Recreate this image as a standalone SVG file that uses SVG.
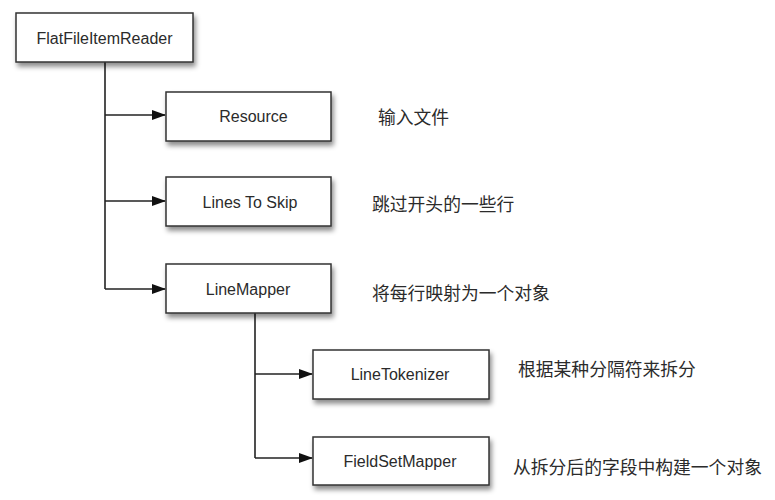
<svg xmlns="http://www.w3.org/2000/svg" width="775" height="500" viewBox="0 0 775 500">
<defs>
<filter id="sh" x="-10%" y="-20%" width="130%" height="160%">
<feDropShadow dx="2" dy="4" stdDeviation="2.5" flood-color="#000" flood-opacity="0.45"/>
</filter>
<marker id="ah" markerWidth="14" markerHeight="10" refX="13" refY="5" orient="auto" markerUnits="userSpaceOnUse">
<path d="M0,0 L14,5 L0,10 Z" fill="#111"/>
</marker>
<style>
.box{fill:#fff;stroke:#333;stroke-width:1.5;filter:url(#sh)}
.lbl{font-family:"Liberation Sans",Arial,sans-serif;font-size:16px;fill:#2b2b2b;text-anchor:middle;dominant-baseline:central}
.cn{font-family:"Noto Sans CJK SC","Liberation Sans",sans-serif;font-size:17.8px;fill:#2b2b2b;dominant-baseline:central}
.ln{fill:none;stroke:#222;stroke-width:1.6}
</style>
</defs>
<rect width="775" height="500" fill="#fff"/>
<g id="connectors">
<path class="ln" d="M105,62 V289"/>
<path class="ln" d="M105,115 H165" marker-end="url(#ah)"/>
<path class="ln" d="M105,201 H165" marker-end="url(#ah)"/>
<path class="ln" d="M105,289 H165" marker-end="url(#ah)"/>
<path class="ln" d="M255,313 V458"/>
<path class="ln" d="M255,374 H312" marker-end="url(#ah)"/>
<path class="ln" d="M255,458 H312" marker-end="url(#ah)"/>
</g>
<g id="FlatFileItemReader"><rect class="box" x="16" y="13" width="177" height="49"/><text class="lbl" x="104.5" y="38">FlatFileItemReader</text></g>
<g id="Resource"><rect class="box" x="166" y="92" width="165" height="49"/><text class="lbl" x="253.5" y="116">Resource</text></g>
<g id="LinesToSkip"><rect class="box" x="166" y="177" width="165" height="49"/><text class="lbl" x="250" y="202">Lines To Skip</text></g>
<g id="LineMapper"><rect class="box" x="166" y="264" width="165" height="49"/><text class="lbl" x="248" y="289">LineMapper</text></g>
<g id="LineTokenizer"><rect class="box" x="313" y="350" width="176" height="49"/><text class="lbl" x="400" y="374">LineTokenizer</text></g>
<g id="FieldSetMapper"><rect class="box" x="313" y="437" width="176" height="48"/><text class="lbl" x="400" y="461">FieldSetMapper</text></g>
<g id="notes">
<text class="cn" x="378" y="116">输入文件</text>
<text class="cn" x="372" y="203">跳过开头的一些行</text>
<text class="cn" x="372" y="292">将每行映射为一个对象</text>
<text class="cn" x="518" y="368">根据某种分隔符来拆分</text>
<text class="cn" x="513" y="466">从拆分后的字段中构建一个对象</text>
</g>
</svg>
